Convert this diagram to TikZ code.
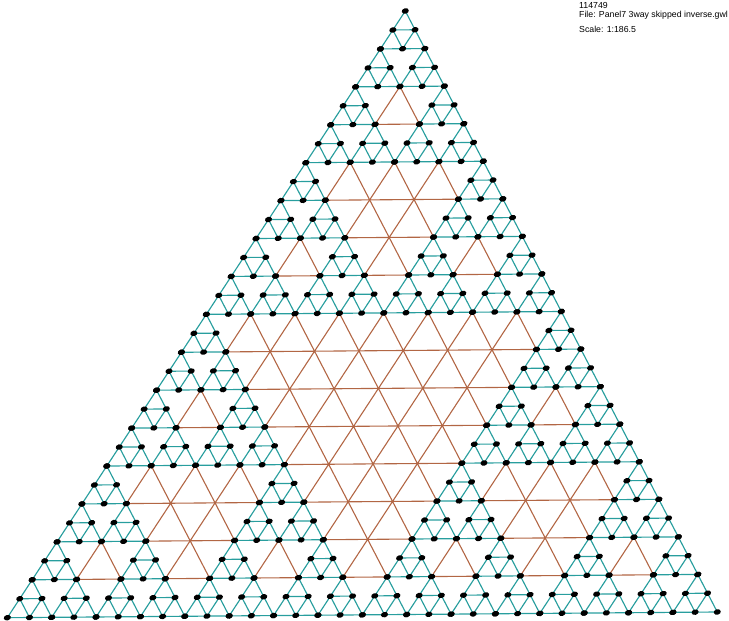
\documentclass[tikz,border=0pt]{standalone}
\usepackage{fontspec}
\setmainfont{Liberation Sans}
\usetikzlibrary{shapes.geometric}
\definecolor{meshteal}{RGB}{40,158,158}
\definecolor{meshrust}{RGB}{178,102,68}

% cell (R,K) of the coarse grid: one when the binomial coefficient is even
\newcommand{\cellflag}[2]{%
  \pgfmathtruncatemacro{\flag}{mod(#2,2)*(1-mod(#1,2))
    +mod(floor(#2/2),2)*(1-mod(floor(#1/2),2))
    +mod(floor(#2/4),2)*(1-mod(floor(#1/4),2))
    +mod(floor(#2/8),2)*(1-mod(floor(#1/8),2))}%
}

\begin{document}
\begin{tikzpicture}[x=1pt,y=-1pt,
    every node/.style={font=\fontsize{8.75}{10}\selectfont},
    dot/.style={ellipse,fill=black,inner sep=0pt,minimum width=7.2pt,minimum height=5.4pt,rotate=15},
    tealedge/.style={meshteal,line width=1.15pt},
    rustedge/.style={meshrust,line width=1.1pt}]
  \useasboundingbox (0,0) rectangle (729,621);

  \foreach \r in {0,...,32} {
    \foreach \k in {0,...,\r} {
      \coordinate (v-\r-\k) at ({405.3-\r/32*398+\k/32*710},{11+\r/32*606.7-\k/32*5.7});
    }
  }

  \foreach \R in {0,...,15} {
    \foreach \K in {0,...,\R} {
      \cellflag{\R}{\K}
      \pgfmathtruncatemacro{\ra}{2*\R}
      \pgfmathtruncatemacro{\rb}{2*\R+1}
      \pgfmathtruncatemacro{\rc}{2*\R+2}
      \pgfmathtruncatemacro{\ka}{2*\K}
      \pgfmathtruncatemacro{\kb}{2*\K+1}
      \pgfmathtruncatemacro{\kc}{2*\K+2}
      \ifnum\flag=0
        \draw[tealedge] (v-\rc-\ka) -- (v-\ra-\ka) -- (v-\rc-\kc) -- cycle;
        \draw[tealedge] (v-\rb-\ka) -- (v-\rb-\kb) -- (v-\rc-\kb) -- cycle;
      \else
        \draw[rustedge] (v-\ra-\ka) -- (v-\rc-\ka) -- (v-\rc-\kc) -- cycle;
      \fi
    }
  }

  % dots go on top of the lines
  \foreach \R in {0,...,15} {
    \foreach \K in {0,...,\R} {
      \cellflag{\R}{\K}
      \ifnum\flag=0
        \pgfmathtruncatemacro{\ra}{2*\R}
        \pgfmathtruncatemacro{\rb}{2*\R+1}
        \pgfmathtruncatemacro{\rc}{2*\R+2}
        \pgfmathtruncatemacro{\ka}{2*\K}
        \pgfmathtruncatemacro{\kb}{2*\K+1}
        \pgfmathtruncatemacro{\kc}{2*\K+2}
        \node[dot] (a-\R-\K) at (v-\ra-\ka) {};
        \node[dot] (b-\R-\K) at (v-\rb-\ka) {};
        \node[dot] (c-\R-\K) at (v-\rb-\kb) {};
        \node[dot] (d-\R-\K) at (v-\rc-\ka) {};
        \node[dot] (e-\R-\K) at (v-\rc-\kb) {};
        \node[dot] (f-\R-\K) at (v-\rc-\kc) {};
      \fi
    }
  }

  \node[anchor=west,inner sep=0pt] (stamp) at (579,5.5) {114749};
  \node[anchor=west,inner sep=0pt] (filename) at (579,15) {File: Panel7 3way skipped inverse.gwl};
  \node[anchor=west,inner sep=0pt] (scalenote) at (579,29) {Scale: 1:186.5};
\end{tikzpicture}
\end{document}
